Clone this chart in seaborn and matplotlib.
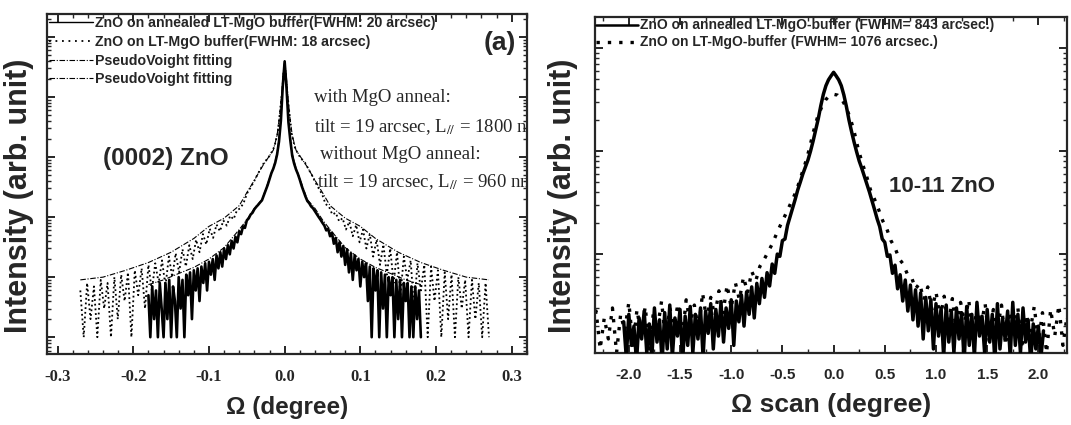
import numpy as np
import pandas as pd
import matplotlib
matplotlib.use("Agg")
import matplotlib.pyplot as plt
from matplotlib.lines import Line2D
from matplotlib.ticker import MultipleLocator, FormatStrFormatter, LogLocator, NullFormatter
import seaborn as sns

# ---------------- (0002) omega rocking curves ----------------
# annealed LT-MgO buffer: scan start / step (deg) and counts
rc_annealed_start = -0.18
rc_annealed_step = 0.0025
rc_annealed_counts = [
    5, 1, 7, 2, 6, 1, 8, 3, 1, 8, 2, 9, 1, 7, 4, 1, 10, 3, 9, 1,
    11, 5, 12, 2, 13, 6, 14, 4, 15, 8, 17, 6, 18, 11, 20, 9, 23, 14, 26, 15,
    30, 20, 34, 24, 40, 30, 47, 38, 58, 52, 70, 66, 88, 95, 110, 118, 135, 148, 160, 175,
    190, 230, 280, 340, 430, 540, 640, 800, 1100, 1800, 4000, 15000,
    39000,
    14000, 3800, 1900, 1050, 780, 620, 520, 420, 330, 270, 220, 185, 170, 150, 140, 125,
    112, 100, 90, 80, 72, 60, 64, 48, 55, 36, 45, 26, 38, 22, 33, 16, 29, 12, 25, 9,
    23, 13, 20, 7, 18, 10, 17, 4, 15, 1, 14, 6, 13, 1, 12, 3, 11, 1, 10, 5,
    10, 1, 9, 2, 9, 1, 8, 4, 8, 1, 7, 1, 7, 2, 6, 1,
]

# LT-MgO buffer without anneal
rc_plain_start = -0.27
rc_plain_step = 0.0045
rc_plain_counts = [
    6, 1, 8, 2, 7, 1, 9, 3, 8, 1, 10, 2, 11, 4, 12, 1, 13, 5, 14, 3,
    16, 6, 17, 8, 19, 7, 22, 10, 25, 12, 29, 15, 34, 20, 42, 26, 52, 35, 64, 45,
    75, 58, 88, 72, 105, 92, 130, 140, 175, 250, 310, 390, 510, 640, 820, 940, 1150, 1500, 2600, 9000,
    32000,
    8800, 2500, 1450, 1100, 920, 800, 630, 500, 380, 300, 240, 165, 150, 110, 118, 85, 96, 62, 84, 48,
    74, 38, 62, 30, 52, 22, 42, 16, 35, 11, 30, 8, 26, 5, 22, 9, 19, 3, 17, 6,
    16, 1, 15, 4, 13, 1, 12, 2, 11, 1, 10, 3, 9, 1, 9, 2, 8, 1, 8, 1,
]

# pseudo-Voigt fits
fit_narrow_omega = [-0.18, -0.16, -0.14, -0.12, -0.10, -0.08, -0.06, -0.05, -0.04, -0.03, -0.02, -0.015,
                    -0.01, -0.007, -0.004, -0.002, 0.0, 0.002, 0.004, 0.007, 0.01, 0.015, 0.02, 0.03,
                    0.04, 0.05, 0.06, 0.08, 0.10, 0.12, 0.14, 0.16, 0.18]
fit_narrow = [7.5, 9, 11.5, 14.5, 20, 31, 62, 90, 140, 195, 440, 650,
              1150, 2300, 8000, 24000, 40000, 24000, 8000, 2300, 1150, 650, 440, 195,
              140, 90, 62, 31, 20, 14.5, 11.5, 9, 7.5]
fit_wide_omega = [-0.27, -0.24, -0.21, -0.18, -0.15, -0.12, -0.10, -0.08, -0.06, -0.05, -0.04, -0.03,
                  -0.02, -0.015, -0.01, -0.007, -0.004, -0.002, 0.0, 0.002, 0.004, 0.007, 0.01, 0.015,
                  0.02, 0.03, 0.04, 0.05, 0.06, 0.08, 0.10, 0.12, 0.15, 0.18, 0.21, 0.24, 0.27]
fit_wide = [9, 10, 13, 17.5, 26, 44, 70, 96, 155, 255, 410, 680,
            1050, 1300, 2300, 4500, 11000, 24000, 33000, 24000, 11000, 4500, 2300, 1300,
            1050, 680, 410, 255, 155, 96, 70, 44, 26, 17.5, 13, 10, 9]

legend_left = ["ZnO on annealed LT-MgO buffer(FWHM: 20 arcsec)",
               "ZnO on LT-MgO buffer(FWHM: 18 arcsec)",
               "PseudoVoight fitting",
               "PseudoVoight fitting"]

# ---------------- (10-11) omega scans ----------------
sk_annealed_start = -2.05
sk_annealed_step = 0.025
sk_annealed_counts = [
    2.2, 1.0, 2.6, 1.3, 2.0, 0.9, 2.4, 1.5, 2.8, 1.1, 2.1, 1.0, 3.0, 1.4, 2.3, 0.9, 2.7, 1.2, 3.2, 1.0,
    2.4, 1.6, 2.9, 0.9, 2.5, 1.3, 3.1, 1.1, 2.6, 1.5, 3.0, 1.0, 2.8, 1.7, 3.3, 1.2, 2.9, 1.6, 3.4, 1.4,
    3.0, 1.9, 3.6, 1.3, 3.5, 2.2, 4.0, 2.0, 4.3, 2.6, 4.8, 2.4, 5.2, 3.3, 5.8, 3.8, 6.6, 4.9, 8.0, 6.5,
    10, 9.5, 13.5, 14, 19, 23, 28, 34, 42, 50, 60, 70, 82, 100, 125, 160, 205, 275, 355, 430,
    490, 535, 580,
    535, 490, 430, 350, 270, 200, 155, 122, 98, 80, 68, 57, 48, 40, 33, 27, 22, 18.5, 14, 13,
    9.5, 9.8, 6.5, 7.8, 4.6, 6.3, 3.5, 5.6, 2.8, 5.0, 2.3, 4.5, 2.0, 4.2, 1.5, 3.8, 1.8, 3.6, 1.2, 3.3,
    1.6, 3.0, 1.0, 3.2, 1.4, 2.8, 1.1, 3.0, 1.5, 2.7, 0.9, 3.1, 1.3, 2.6, 1.0, 3.4, 1.6, 2.5, 1.1, 2.9,
    1.4, 2.6, 0.9, 3.3, 1.2, 2.4, 1.5, 2.8, 1.0, 3.4, 1.3, 2.6, 1.1, 3.0, 1.4, 2.3, 0.9, 2.1, 1.2, 2.0,
    1.0, 1.8,
]

sk_plain_start = -2.36
sk_plain_step = 0.04
sk_plain_counts = [
    1.6, 2.8, 1.2, 2.4, 1.5, 3.0, 1.1, 2.6, 1.8, 3.4, 1.3, 2.9, 1.6, 3.1, 1.2, 2.7, 1.9, 3.5, 1.4, 3.0,
    2.0, 3.3, 1.5, 3.6, 2.1, 3.2, 1.8, 4.2, 2.3, 3.8, 2.5, 4.4, 2.7, 5.0, 3.0, 5.3, 3.6, 6.0, 4.2, 6.8,
    5.5, 7.6, 8.8, 10.5, 12.5, 15.5, 19, 23, 28, 34, 42, 56, 74, 102, 150, 208, 262, 312, 345,
    355,
    348, 318, 268, 212, 155, 105, 76, 58, 42, 34, 27, 21, 17.5, 13.5, 11.5, 9.0, 8.0, 6.4, 6.0, 4.6,
    5.2, 3.6, 4.8, 2.9, 4.3, 2.4, 3.9, 2.0, 3.7, 1.7, 3.4, 2.2, 3.6, 1.5, 3.1, 2.0, 3.3, 1.4, 2.9, 1.9,
    3.2, 1.3, 2.8, 1.7, 3.0, 1.2, 2.6, 1.8, 3.1, 1.4, 2.7, 1.1, 2.9, 1.6, 3.2, 1.3, 2.5, 1.7, 2.9,
]

legend_right = ["ZnO on annealed LT-MgO-buffer (FWHM= 843 arcsec.)",
                "ZnO on LT-MgO-buffer (FWHM= 1076 arcsec.)"]


def scan_frame(start, step, counts):
    omega = np.round(start + step * np.arange(len(counts)), 5)
    return pd.DataFrame({"omega": omega, "counts": counts})


sns.set_style("ticks")
plt.rcParams["font.family"] = ["Liberation Sans", "DejaVu Sans"]
plt.rcParams["mathtext.fontset"] = "stix"

fig = plt.figure(figsize=(10.71, 4.25), dpi=100)
ax1 = fig.add_axes([0.0439, 0.167, 0.448, 0.800])
ax2 = fig.add_axes([0.5556, 0.1694, 0.4407, 0.7906])

DOTTED_L = (0, (1, 1.6))
DASHDOT = (0, (5, 1.5, 1, 1.5))

# ---- left panel ----
d_ann = scan_frame(rc_annealed_start, rc_annealed_step, rc_annealed_counts)
d_pln = scan_frame(rc_plain_start, rc_plain_step, rc_plain_counts)
sns.lineplot(data=d_pln, x="omega", y="counts", ax=ax1, color="black", lw=1.3,
             linestyle=DOTTED_L, estimator=None, sort=False, zorder=2)
sns.lineplot(data=d_ann, x="omega", y="counts", ax=ax1, color="black", lw=1.9,
             estimator=None, sort=False, zorder=3)
sns.lineplot(x=fit_wide_omega, y=fit_wide, ax=ax1, color="black", lw=0.8,
             linestyle=DASHDOT, estimator=None, sort=False, zorder=4)
sns.lineplot(x=fit_narrow_omega, y=fit_narrow, ax=ax1, color="black", lw=0.8,
             linestyle=DASHDOT, estimator=None, sort=False, zorder=4)

ax1.set_yscale("log")
ax1.set_xlim(-0.314, 0.32)
ax1.set_ylim(10 ** -0.28, 10 ** 5.38)

# ---- right panel ----
s_ann = scan_frame(sk_annealed_start, sk_annealed_step, sk_annealed_counts)
s_pln = scan_frame(sk_plain_start, sk_plain_step, sk_plain_counts)
sns.lineplot(data=s_ann, x="omega", y="counts", ax=ax2, color="black", lw=2.5,
             estimator=None, sort=False, zorder=3)
sns.lineplot(data=s_pln, x="omega", y="counts", ax=ax2, color="black", lw=2.4,
             linestyle=(0, (1, 2.4)), estimator=None, sort=False, zorder=2)
ax2.set_yscale("log")
ax2.set_xlim(-2.33, 2.28)
ax2.set_ylim(10 ** 0.04, 10 ** 3.3)

# ---- shared axis styling ----
for ax in (ax1, ax2):
    for sp in ax.spines.values():
        sp.set_linewidth(1.6)
        sp.set_visible(True)
    ax.yaxis.set_major_locator(LogLocator(base=10))
    ax.yaxis.set_minor_locator(LogLocator(base=10, subs=np.arange(2, 10)))
    ax.yaxis.set_major_formatter(NullFormatter())
    ax.yaxis.set_minor_formatter(NullFormatter())
    ax.tick_params(which="both", direction="in", top=True, right=True, left=True, bottom=True,
                   labelleft=False)
    ax.tick_params(which="major", length=6, width=1.4, pad=11)
    ax.tick_params(which="minor", length=3, width=1.0)
    ax.set_ylabel("Intensity (arb. unit)", fontsize=22, fontweight="bold")

ax1.yaxis.set_label_coords(-0.028, 0.465)
ax2.yaxis.set_label_coords(-0.036, 0.467)

ax1.xaxis.set_major_locator(MultipleLocator(0.1))
ax1.xaxis.set_minor_locator(MultipleLocator(0.02))
ax1.xaxis.set_major_formatter(FormatStrFormatter("%.1f"))
for lab in ax1.get_xticklabels():
    lab.set_family(["Liberation Serif", "DejaVu Serif"])
    lab.set_fontweight("bold")
    lab.set_fontsize(12)
ax1.set_xlabel("Ω (degree)", fontsize=17.5, fontweight="bold", labelpad=8)

ax2.xaxis.set_major_locator(MultipleLocator(0.5))
ax2.xaxis.set_minor_locator(MultipleLocator(0.25))
ax2.xaxis.set_major_formatter(FormatStrFormatter("%.1f"))
for lab in ax2.get_xticklabels():
    lab.set_fontweight("bold")
    lab.set_fontsize(11)
ax2.set_xlabel("Ω scan (degree)", fontsize=19, fontweight="bold", labelpad=8)

# legends (handles in the style of each series)
handles_left = [Line2D([], [], color="black", lw=1.0),
                Line2D([], [], color="black", lw=1.3, linestyle=(0, (1, 2.6))),
                Line2D([], [], color="black", lw=0.8, linestyle=DASHDOT),
                Line2D([], [], color="black", lw=0.8, linestyle=DASHDOT)]
ax1.legend(handles_left, legend_left, loc="upper left", frameon=False,
           prop={"weight": "bold", "size": 10.2}, handlelength=3.1, handletextpad=0.15,
           labelspacing=0.33, borderaxespad=0.1, borderpad=0.05)
handles_right = [Line2D([], [], color="black", lw=1.8),
                 Line2D([], [], color="black", lw=2.4, linestyle=(0, (1, 2.4)))]
ax2.legend(handles_right, legend_right, loc="upper left", frameon=False,
           prop={"weight": "bold", "size": 10},
           handlelength=3.0, handletextpad=0.15, labelspacing=0.22,
           borderaxespad=0.05, borderpad=0.05)

# annotations
ax1.text(0.978, 0.915, "(a)", transform=ax1.transAxes, ha="right", va="center",
         fontsize=19, fontweight="bold")
ax1.text(0.117, 0.575, "(0002) ZnO", transform=ax1.transAxes, ha="left", va="center",
         fontsize=17.5, fontweight="bold")
serif = ["Liberation Serif", "DejaVu Serif"]
ax1.text(0.557, 0.755, "with MgO anneal:", transform=ax1.transAxes, family=serif,
         fontsize=13.5, va="center", clip_on=True)
ax1.text(0.557, 0.667, r"tilt = 19 arcsec, L$_{//}$ = 1800 nm", transform=ax1.transAxes,
         family=serif, fontsize=13.5, va="center", clip_on=True)
ax1.text(0.568, 0.588, "without MgO anneal:", transform=ax1.transAxes, family=serif,
         fontsize=13.5, va="center", clip_on=True)
ax1.text(0.563, 0.505, r"tilt = 19 arcsec, L$_{//}$ = 960 nm", transform=ax1.transAxes,
         family=serif, fontsize=13.5, va="center", clip_on=True)

ax2.text(0.623, 0.495, "10-11 ZnO", transform=ax2.transAxes, ha="left", va="center",
         fontsize=16, fontweight="bold")

fig.savefig("out.png", dpi=100)
